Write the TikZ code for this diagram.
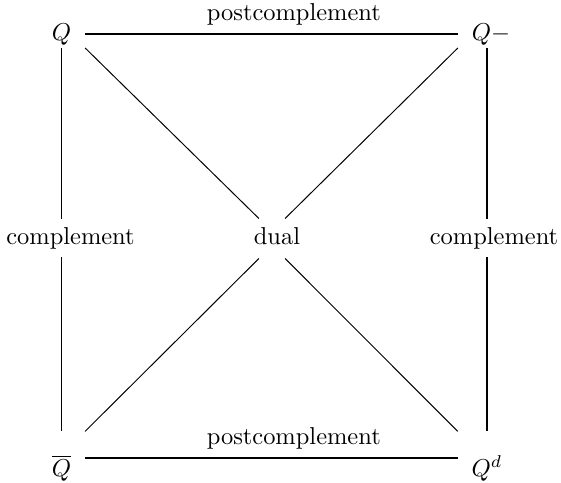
\documentclass[tikz,border=0pt]{standalone}
\usepackage{amsmath,amssymb}
\usepackage{tikz}

\tikzset{
  corner/.style={inner xsep=5.5pt, inner ysep=1pt, text height=7pt, text depth=2pt},
  lowcorner/.style={corner, text height=17.4pt},
  side/.style={line width=0.6pt},
  cross/.style={line width=0.4pt}
}

\begin{document}
\begin{tikzpicture}[x=0.409pt, y=-0.409pt]
\useasboundingbox (0,0) rectangle (561,482);

% Corners of the square
\node[corner] (q) at (61.5,34) {$Q$};
\node[corner] (qm) at (491,34) {$Q-$};
\node[lowcorner] (qb) at (61.5,458) {$\overline{Q}$};
\node[lowcorner] (qd) at (487,458) {$Q^d$};

% Labels on the sides and in the middle
\node (cl) at (70.5,238) {complement};
\node (cr) at (494,238) {complement};
\node[inner ysep=3.5pt, text depth=2pt] (dual) at (277,238.5) {dual};

% Top and bottom sides
\draw[side] (q) -- (qm) node[above, pos=0.56] {postcomplement};
\draw[side] (qb) -- (qd) node[above, pos=0.56] {postcomplement};

% Left and right sides, broken by the labels
\draw[side] (q) -- (q |- cl.north);
\draw[side] (q |- cl.south) -- (qb);
\draw[side] (qm.south -| qd.north) -- (qd |- cr.north);
\draw[side] (qd |- cr.south) -- (qd.north);

% Diagonals through dual
\draw[cross] (q.south east) -- ([xshift=-7.4pt]dual.north);
\draw[cross] (qm.south west) -- ([xshift=3.3pt]dual.north);
\draw[cross] (qb.north east) -- ([xshift=-7.4pt]dual.south);
\draw[cross] (qd.north west) -- ([xshift=3.3pt]dual.south);
\end{tikzpicture}
\end{document}
